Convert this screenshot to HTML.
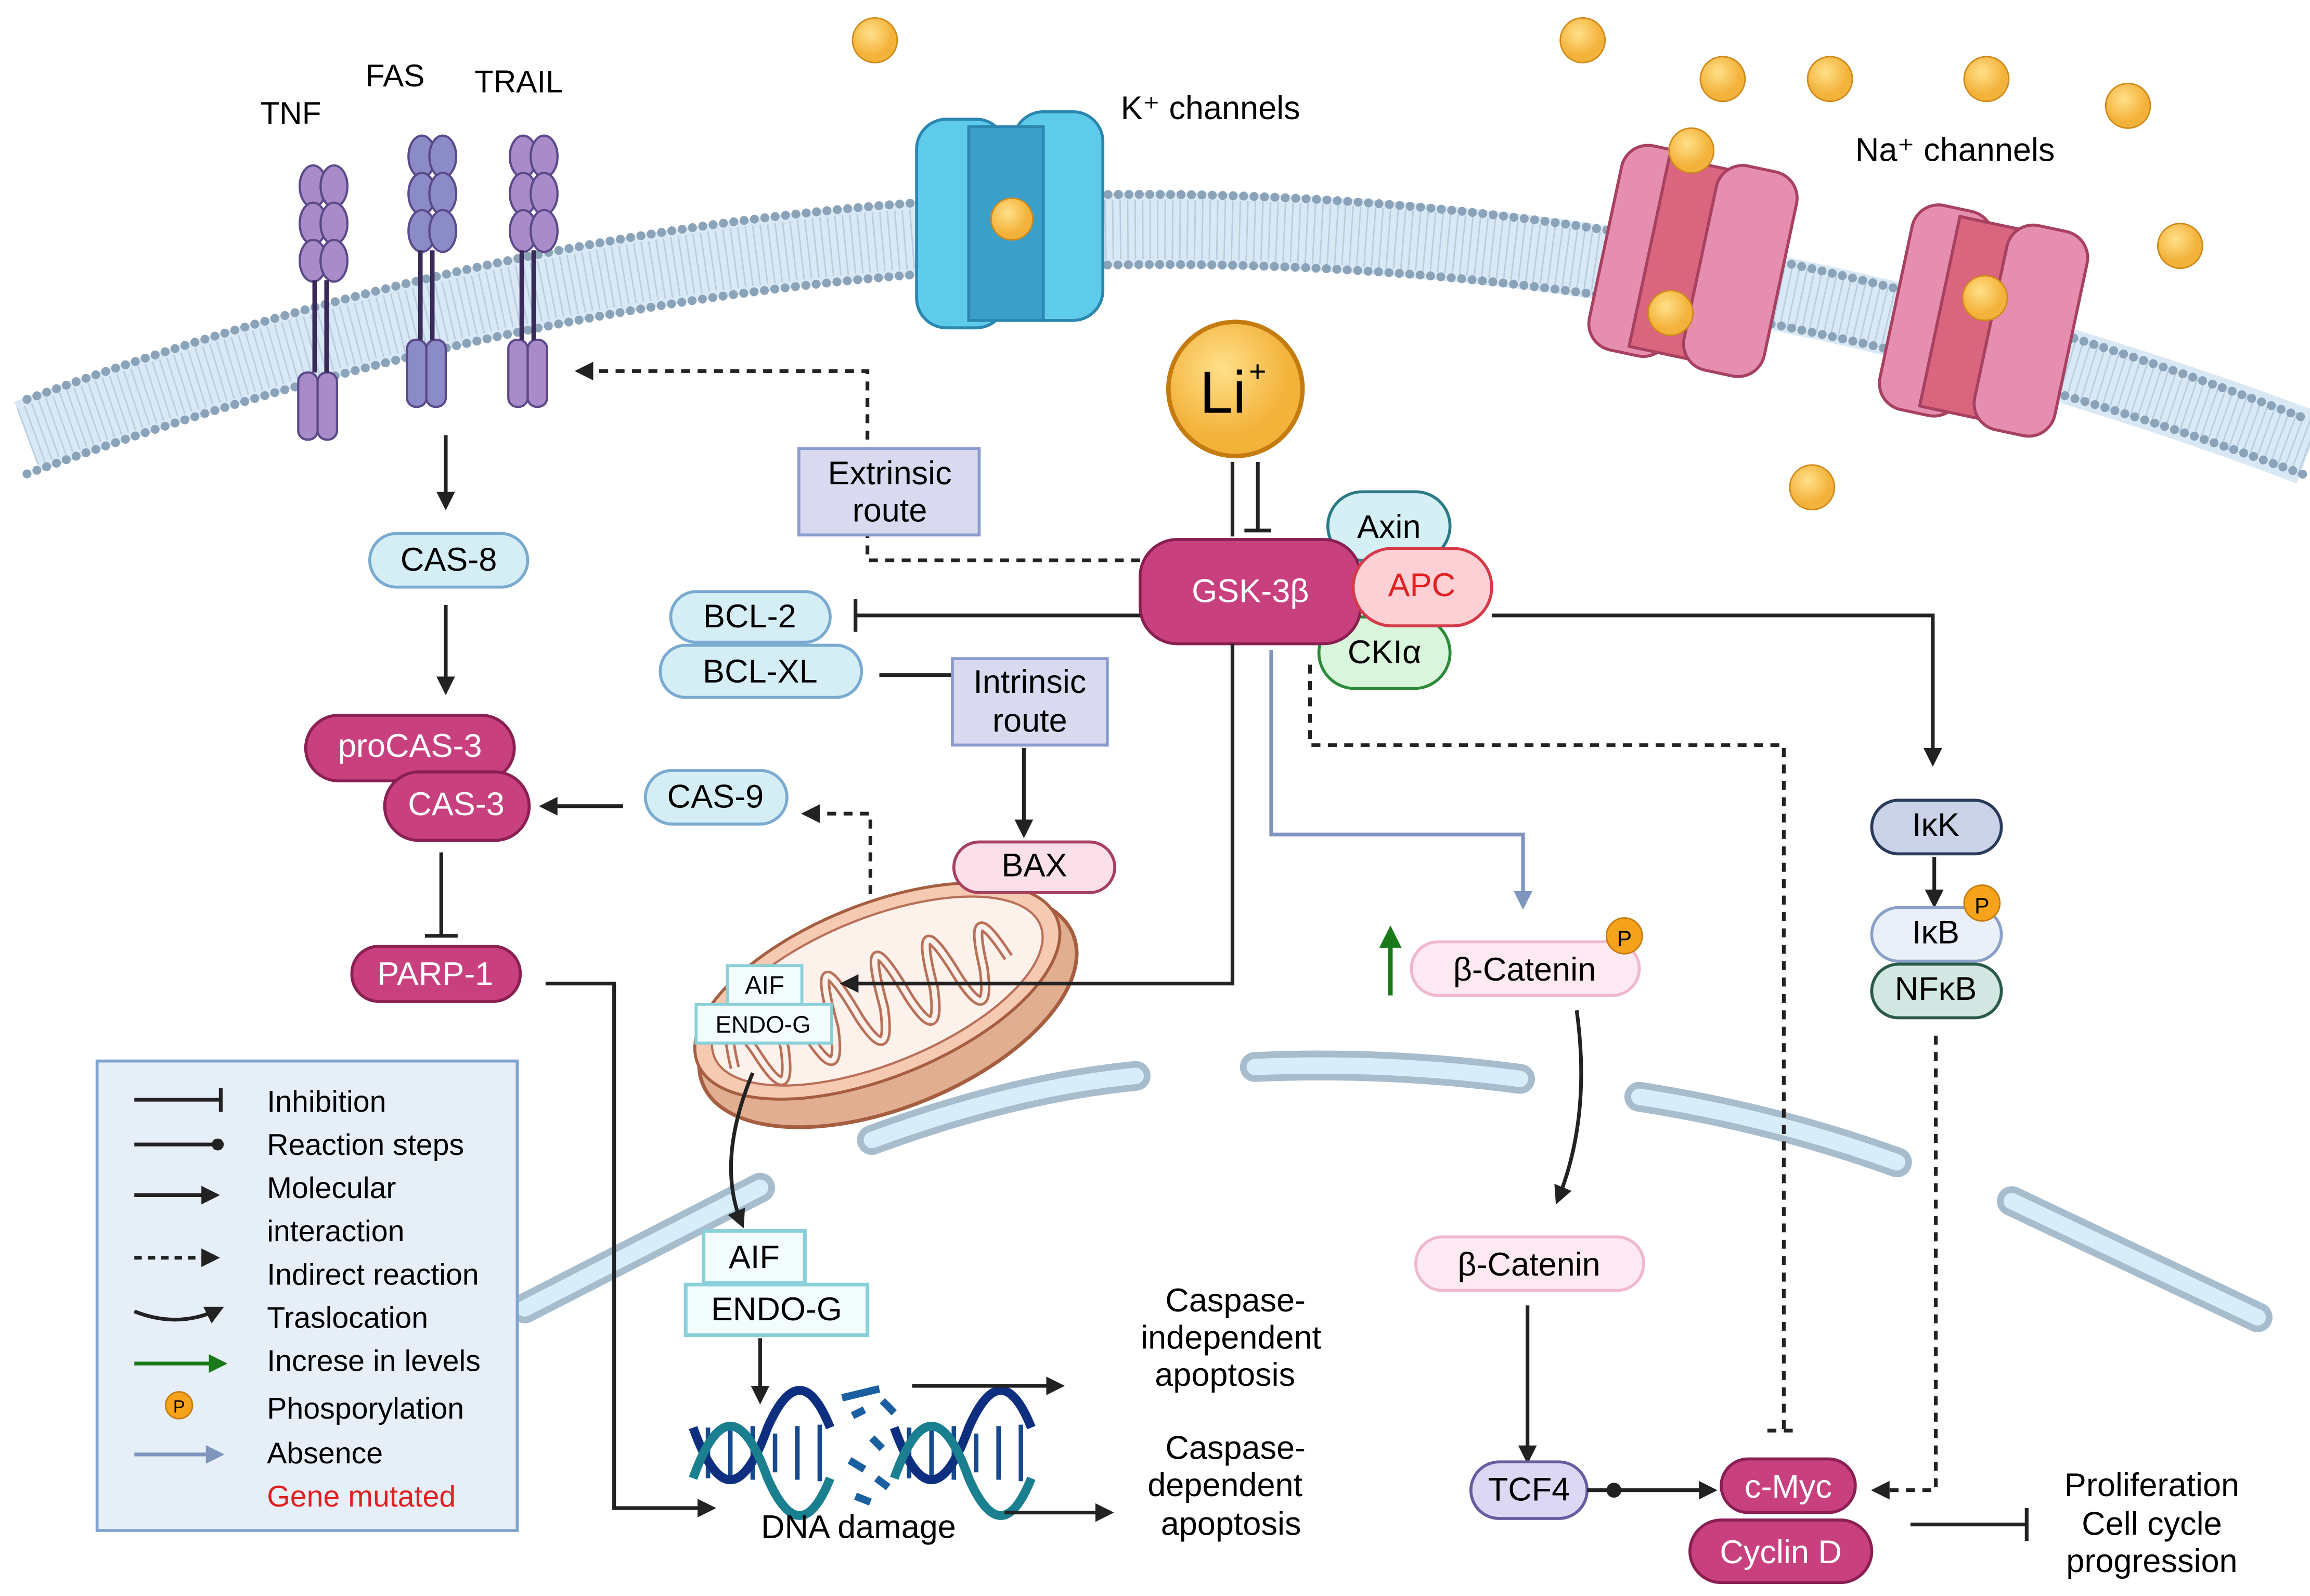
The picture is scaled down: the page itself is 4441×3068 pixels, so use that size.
<!DOCTYPE html>
<html><head><meta charset="utf-8"><style>html,body{margin:0;padding:0;background:#fff}svg{display:block}text{font-family:"Liberation Sans",sans-serif}</style></head><body>
<svg width="4441" height="3068" viewBox="0 0 1550 1071" xmlns="http://www.w3.org/2000/svg">
<defs>
<marker id="a" viewBox="0 0 10 10" refX="8" refY="5" markerWidth="5" markerHeight="5" orient="auto"><path d="M0,0L10,5L0,10z" fill="#222"/></marker>
<marker id="ab" viewBox="0 0 10 10" refX="8" refY="5" markerWidth="5" markerHeight="5" orient="auto"><path d="M0,0L10,5L0,10z" fill="#7f95bd"/></marker>
<marker id="ag" viewBox="0 0 10 10" refX="8" refY="5" markerWidth="5" markerHeight="5" orient="auto"><path d="M0,0L10,5L0,10z" fill="#1a7a1a"/></marker>
<radialGradient id="ion" cx="40%" cy="35%"><stop offset="0" stop-color="#ffe08a"/><stop offset="1" stop-color="#f3b23a"/></radialGradient>
</defs>
<!-- membrane -->
<path d="M18,293 Q785,11 1550,301" fill="none" stroke="#d9e8f5" stroke-width="50"/>
<path d="M18,293 Q785,11 1550,301" fill="none" stroke="#b8cde0" stroke-width="40" stroke-dasharray="1 4"/>
<path d="M18,268 Q785,-14 1550,282" fill="none" stroke="#8aa3b8" stroke-width="6" stroke-linecap="round" stroke-dasharray="0 7"/>
<path d="M18,318 Q785,36 1550,320" fill="none" stroke="#8aa3b8" stroke-width="6" stroke-linecap="round" stroke-dasharray="0 7"/>
<!-- nuclear envelope -->
<g stroke-linecap="round" fill="none">
<g stroke="#a7bccc" stroke-width="20"><path d="M352,878 L510,797"/><path d="M585,765 Q680,730 762,722"/><path d="M842,716 Q930,712 1020,724"/><path d="M1100,736 Q1190,750 1273,780"/><path d="M1350,806 L1515,884"/></g>
<g stroke="#d8edfa" stroke-width="11"><path d="M352,878 L510,797"/><path d="M585,765 Q680,730 762,722"/><path d="M842,716 Q930,712 1020,724"/><path d="M1100,736 Q1190,750 1273,780"/><path d="M1350,806 L1515,884"/></g>
</g>
<!-- receptors -->
<g stroke="#5b4a8a" stroke-width="1.5">
<g fill="#a98bc9"><ellipse cx="210" cy="125" rx="9" ry="14"/><ellipse cx="224" cy="125" rx="9" ry="14"/><ellipse cx="210" cy="150" rx="9" ry="14"/><ellipse cx="224" cy="150" rx="9" ry="14"/><ellipse cx="210" cy="175" rx="9" ry="14"/><ellipse cx="224" cy="175" rx="9" ry="14"/><rect x="200" y="250" width="13" height="45" rx="6"/><rect x="213" y="250" width="13" height="45" rx="6"/></g>
<g fill="#8b8cc7"><ellipse cx="283" cy="105" rx="9" ry="14"/><ellipse cx="297" cy="105" rx="9" ry="14"/><ellipse cx="283" cy="130" rx="9" ry="14"/><ellipse cx="297" cy="130" rx="9" ry="14"/><ellipse cx="283" cy="155" rx="9" ry="14"/><ellipse cx="297" cy="155" rx="9" ry="14"/><rect x="273" y="228" width="13" height="45" rx="6"/><rect x="286" y="228" width="13" height="45" rx="6"/></g>
<g fill="#a98bc9"><ellipse cx="351" cy="105" rx="9" ry="14"/><ellipse cx="365" cy="105" rx="9" ry="14"/><ellipse cx="351" cy="130" rx="9" ry="14"/><ellipse cx="365" cy="130" rx="9" ry="14"/><ellipse cx="351" cy="155" rx="9" ry="14"/><ellipse cx="365" cy="155" rx="9" ry="14"/><rect x="341" y="228" width="13" height="45" rx="6"/><rect x="354" y="228" width="13" height="45" rx="6"/></g>
</g>
<g stroke="#3a2a5a" stroke-width="3"><path d="M211,188V250M219,188V250M282,168V228M290,168V228M350,168V228M358,168V228"/></g>
<text x="195" y="83" font-size="21" text-anchor="middle">TNF</text>
<text x="265" y="58" font-size="21" text-anchor="middle">FAS</text>
<text x="348" y="62" font-size="21" text-anchor="middle">TRAIL</text>
<!-- K channel -->
<rect x="615" y="80" width="60" height="140" rx="20" fill="#5ecbeb" stroke="#2b86b0" stroke-width="2"/>
<rect x="680" y="75" width="60" height="140" rx="20" fill="#5ecbeb" stroke="#2b86b0" stroke-width="2"/>
<rect x="650" y="85" width="50" height="130" fill="#3ba0c9" stroke="#2b86b0" stroke-width="2"/>
<circle cx="679" cy="147" r="14" fill="url(#ion)" stroke="#d08a1a"/>
<text x="752" y="80" font-size="22">K⁺ channels</text>
<!-- Na channels -->
<g transform="rotate(12 1135 180)"><rect x="1075" y="105" width="55" height="140" rx="18" fill="#e58eb0" stroke="#a8405f" stroke-width="2"/><rect x="1105" y="110" width="50" height="130" fill="#d9657f" stroke="#a8405f" stroke-width="2"/><rect x="1140" y="105" width="55" height="140" rx="18" fill="#e58eb0" stroke="#a8405f" stroke-width="2"/></g>
<g transform="rotate(12 1330 220)"><rect x="1270" y="145" width="55" height="140" rx="18" fill="#e58eb0" stroke="#a8405f" stroke-width="2"/><rect x="1300" y="150" width="50" height="130" fill="#d9657f" stroke="#a8405f" stroke-width="2"/><rect x="1335" y="145" width="55" height="140" rx="18" fill="#e58eb0" stroke="#a8405f" stroke-width="2"/></g>
<text x="1245" y="108" font-size="22">Na⁺ channels</text>
<g fill="url(#ion)" stroke="#d08a1a"><circle cx="587" cy="27" r="15"/><circle cx="1062" cy="27" r="15"/><circle cx="1156" cy="53" r="15"/><circle cx="1228" cy="53" r="15"/><circle cx="1333" cy="53" r="15"/><circle cx="1428" cy="71" r="15"/><circle cx="1135" cy="101" r="15"/><circle cx="1463" cy="165" r="15"/><circle cx="1216" cy="327" r="15"/><circle cx="1121" cy="210" r="15"/><circle cx="1332" cy="200" r="15"/></g>
<!-- Li -->
<circle cx="829" cy="261" r="45" fill="url(#ion)" stroke="#c47c10" stroke-width="3"/>
<text x="805" y="277" font-size="40">Li</text><text x="838" y="256" font-size="20">+</text>
<path d="M827,310V360M844,310V355M835,356H853" stroke="#222" stroke-width="2.5" fill="none"/>
<!-- GSK complex -->
<rect x="891" y="330" width="82" height="46" rx="23" fill="#d5f0f4" stroke="#2c7a86" stroke-width="2"/>
<text x="932" y="361" font-size="22" text-anchor="middle">Axin</text>
<rect x="885" y="414" width="88" height="48" rx="24" fill="#d9f5dc" stroke="#2c8a3a" stroke-width="2"/>
<text x="929" y="445" font-size="22" text-anchor="middle">CKIα</text>
<rect x="765" y="362" width="148" height="70" rx="25" fill="#c9407f" stroke="#8a1f52" stroke-width="2"/>
<text x="839" y="404" font-size="22" fill="#fff" text-anchor="middle">GSK-3β</text>
<rect x="908" y="368" width="93" height="52" rx="26" fill="#fdd0d5" stroke="#d43a4a" stroke-width="2"/>
<text x="954" y="400" font-size="22" fill="#e02020" text-anchor="middle">APC</text>
<!-- extrinsic -->
<path d="M765,376H582V249H388" stroke="#222" stroke-width="2.5" fill="none" stroke-dasharray="6 5" marker-end="url(#a)"/>
<rect x="536" y="301" width="121" height="58" fill="#d9d9f0" stroke="#8b9bd0" stroke-width="2"/>
<text x="597" y="325" font-size="22" text-anchor="middle">Extrinsic</text><text x="597" y="350" font-size="22" text-anchor="middle">route</text>
<!-- left cascade -->
<path d="M299,292V340" stroke="#222" stroke-width="2.5" marker-end="url(#a)"/>
<rect x="248" y="358" width="106" height="36" rx="18" fill="#d5eef6" stroke="#7aaad0" stroke-width="2"/>
<text x="301" y="383" font-size="22" text-anchor="middle">CAS-8</text>
<path d="M299,406V464" stroke="#222" stroke-width="2.5" marker-end="url(#a)"/>
<rect x="205" y="480" width="140" height="44" rx="22" fill="#c9407f" stroke="#8a1f52" stroke-width="2"/>
<text x="275" y="508" font-size="22" fill="#fff" text-anchor="middle">proCAS-3</text>
<rect x="258" y="518" width="97" height="46" rx="23" fill="#c9407f" stroke="#8a1f52" stroke-width="2"/>
<text x="306" y="547" font-size="22" fill="#fff" text-anchor="middle">CAS-3</text>
<path d="M418,541H364" stroke="#222" stroke-width="2.5" marker-end="url(#a)"/>
<rect x="433" y="517" width="95" height="36" rx="18" fill="#d5eef6" stroke="#7aaad0" stroke-width="2"/>
<text x="480" y="542" font-size="22" text-anchor="middle">CAS-9</text>
<path d="M584,600V546H540" stroke="#222" stroke-width="2.5" fill="none" stroke-dasharray="6 5" marker-end="url(#a)"/>
<path d="M296,572V628M285,628H307" stroke="#222" stroke-width="2.5" fill="none"/>
<rect x="236" y="635" width="113" height="37" rx="18" fill="#c9407f" stroke="#8a1f52" stroke-width="2"/>
<text x="292" y="661" font-size="22" fill="#fff" text-anchor="middle">PARP-1</text>
<path d="M366,660H412V1012H478" stroke="#222" stroke-width="2.5" fill="none" marker-end="url(#a)"/>
<!-- BCL -->
<path d="M765,413H574M574,402V424" stroke="#222" stroke-width="2.5" fill="none"/>
<rect x="450" y="397" width="107" height="34" rx="17" fill="#d5eef6" stroke="#7aaad0" stroke-width="2"/>
<text x="503" y="421" font-size="22" text-anchor="middle">BCL-2</text>
<rect x="443" y="433" width="135" height="35" rx="17" fill="#d5eef6" stroke="#7aaad0" stroke-width="2"/>
<text x="510" y="458" font-size="22" text-anchor="middle">BCL-XL</text>
<path d="M590,453H640" stroke="#222" stroke-width="2.5"/>
<rect x="639" y="442" width="104" height="58" fill="#d9d9f0" stroke="#8b9bd0" stroke-width="2"/>
<text x="691" y="465" font-size="22" text-anchor="middle">Intrinsic</text><text x="691" y="491" font-size="22" text-anchor="middle">route</text>
<path d="M687,502V560" stroke="#222" stroke-width="2.5" marker-end="url(#a)"/>
<!-- mitochondrion -->
<g transform="rotate(-22 592 668)">
<ellipse cx="592" cy="678" rx="134" ry="66" fill="#e2ae92" stroke="#a65e40" stroke-width="2.5"/>
<ellipse cx="590" cy="664" rx="130" ry="58" fill="#f6c9b2" stroke="#a65e40" stroke-width="2"/>
<ellipse cx="590" cy="664" rx="118" ry="49" fill="#fdf1ec" stroke="#b87058" stroke-width="1.5"/>
<path d="M482,676 q8,-52 18,0 q8,40 18,0 q8,-62 18,0 q8,40 18,0 q8,-68 18,0 q8,40 18,0 q8,-68 18,0 q8,40 18,0 q8,-62 18,0 q8,40 18,0 q8,-52 18,0" fill="none" stroke="#b87058" stroke-width="7" stroke-linejoin="round"/>
<path d="M482,676 q8,-52 18,0 q8,40 18,0 q8,-62 18,0 q8,40 18,0 q8,-68 18,0 q8,40 18,0 q8,-68 18,0 q8,40 18,0 q8,-62 18,0 q8,40 18,0 q8,-52 18,0" fill="none" stroke="#fdf1ec" stroke-width="3.5" stroke-linejoin="round"/>
</g>
<rect x="640" y="565" width="108" height="34" rx="17" fill="#fbe0ea" stroke="#a8405f" stroke-width="2"/>
<text x="694" y="588" font-size="22" text-anchor="middle">BAX</text>
<rect x="488" y="648" width="50" height="26" fill="#f2fcfc" stroke="#8ad0d8" stroke-width="2"/>
<text x="513" y="667" font-size="17" text-anchor="middle">AIF</text>
<rect x="467" y="674" width="91" height="26" fill="#f2fcfc" stroke="#8ad0d8" stroke-width="2"/>
<text x="512" y="693" font-size="16" text-anchor="middle">ENDO-G</text>
<path d="M827,432V660H566" stroke="#222" stroke-width="2.5" fill="none" marker-end="url(#a)"/>
<path d="M505,720 Q480,780 498,822" stroke="#222" stroke-width="2.5" fill="none" marker-end="url(#a)"/>
<rect x="472" y="826" width="68" height="35" fill="#f2fcfc" stroke="#8ad0d8" stroke-width="2.5"/>
<text x="506" y="851" font-size="22" text-anchor="middle">AIF</text>
<rect x="460" y="862" width="122" height="34" fill="#f2fcfc" stroke="#8ad0d8" stroke-width="2.5"/>
<text x="521" y="886" font-size="22" text-anchor="middle">ENDO-G</text>
<path d="M510,898V940" stroke="#222" stroke-width="2.5" marker-end="url(#a)"/>
<!-- DNA -->
<g fill="none">
<path d="M475,958V992M490,955V995M505,957V993M520,962V988M535,957V993M550,956V994M610,958V992M625,955V995M640,957V993M655,962V988M670,957V993M685,956V994" stroke="#17498f" stroke-width="3"/>
<path d="M465,958 q25,70 50,0 q22,-50 42,0" stroke="#0e2f80" stroke-width="6"/>
<path d="M465,992 q25,-70 50,0 q22,50 42,0" stroke="#1a7f8e" stroke-width="6"/>
<path d="M600,958 q25,70 50,0 q22,-50 42,0" stroke="#0e2f80" stroke-width="6"/>
<path d="M600,992 q25,-70 50,0 q22,50 42,0" stroke="#1a7f8e" stroke-width="6"/>
<path d="M565,938 L590,932 M572,950L580,946 M585,965L592,972 M570,980L580,986 M588,992L596,998 M574,1004L584,1008 M592,940L600,948" stroke="#1a5fa0" stroke-width="5"/>
</g>
<text x="576" y="1032" font-size="22" text-anchor="middle">DNA damage</text>
<path d="M612,930H712" stroke="#222" stroke-width="2.5" marker-end="url(#a)"/>
<path d="M674,1015H745" stroke="#222" stroke-width="2.5" marker-end="url(#a)"/>
<text font-size="22" text-anchor="middle"><tspan x="829" y="880">Caspase-</tspan><tspan x="826" y="905">independent</tspan><tspan x="822" y="930">apoptosis</tspan></text>
<text font-size="22" text-anchor="middle"><tspan x="829" y="979">Caspase-</tspan><tspan x="822" y="1004">dependent</tspan><tspan x="826" y="1030">apoptosis</tspan></text>
<!-- beta catenin -->
<path d="M853,436V560H1022V608" stroke="#7f95bd" stroke-width="2.5" fill="none" marker-end="url(#ab)"/>
<path d="M879,446V500H1197V960M1186,960H1208" stroke="#222" stroke-width="2.5" fill="none" stroke-dasharray="6 5"/>
<path d="M933,668V624" stroke="#1a7a1a" stroke-width="3" marker-end="url(#ag)"/>
<rect x="947" y="632" width="153" height="36" rx="18" fill="#fde9f2" stroke="#f0b8d0" stroke-width="2"/>
<text x="1023" y="658" font-size="22" text-anchor="middle">β-Catenin</text>
<circle cx="1090" cy="628" r="12" fill="#f7a21b" stroke="#c47c10"/><text x="1090" y="635" font-size="15" text-anchor="middle">P</text>
<path d="M1058,678 Q1068,750 1045,806" stroke="#222" stroke-width="2.5" fill="none" marker-end="url(#a)"/>
<rect x="950" y="830" width="153" height="36" rx="18" fill="#fde9f2" stroke="#f0b8d0" stroke-width="2"/>
<text x="1026" y="856" font-size="22" text-anchor="middle">β-Catenin</text>
<path d="M1025,876V980" stroke="#222" stroke-width="2.5" marker-end="url(#a)"/>
<rect x="987" y="981" width="78" height="38" rx="19" fill="#dcd8f4" stroke="#6a5aa0" stroke-width="2"/>
<text x="1026" y="1007" font-size="22" text-anchor="middle">TCF4</text>
<path d="M1065,1000H1150" stroke="#222" stroke-width="2.5" marker-end="url(#a)"/>
<circle cx="1083" cy="1000" r="5" fill="#222"/>
<rect x="1155" y="979" width="90" height="36" rx="18" fill="#c9407f" stroke="#8a1f52" stroke-width="2"/>
<text x="1200" y="1005" font-size="22" fill="#fff" text-anchor="middle">c-Myc</text>
<rect x="1134" y="1020" width="122" height="42" rx="21" fill="#c9407f" stroke="#8a1f52" stroke-width="2"/>
<text x="1195" y="1049" font-size="22" fill="#fff" text-anchor="middle">Cyclin D</text>
<path d="M1282,1023H1360M1360,1012V1034" stroke="#222" stroke-width="2.5" fill="none"/>
<text font-size="22" text-anchor="middle"><tspan x="1444" y="1004">Proliferation</tspan><tspan x="1444" y="1030">Cell cycle</tspan><tspan x="1444" y="1055">progression</tspan></text>
<!-- IKK -->
<path d="M1001,413H1297V512" stroke="#222" stroke-width="2.5" fill="none" marker-end="url(#a)"/>
<rect x="1256" y="537" width="87" height="36" rx="18" fill="#c9d2e6" stroke="#2a3a5a" stroke-width="2"/>
<text x="1299" y="561" font-size="22" text-anchor="middle">IκK</text>
<path d="M1298,575V607" stroke="#222" stroke-width="2.5" marker-end="url(#a)"/>
<rect x="1256" y="609" width="87" height="36" rx="18" fill="#eaf0fa" stroke="#8aa0c8" stroke-width="2"/>
<text x="1299" y="633" font-size="22" text-anchor="middle">IκB</text>
<circle cx="1330" cy="606" r="12" fill="#f7a21b" stroke="#c47c10"/><text x="1330" y="613" font-size="15" text-anchor="middle">P</text>
<rect x="1256" y="647" width="87" height="36" rx="18" fill="#d2e6e2" stroke="#2a5a4a" stroke-width="2"/>
<text x="1299" y="671" font-size="22" text-anchor="middle">NFκB</text>
<path d="M1299,695V1000H1258" stroke="#222" stroke-width="2.5" fill="none" stroke-dasharray="6 5" marker-end="url(#a)"/>
<!-- legend -->
<rect x="65" y="712" width="282" height="315" fill="#e6eef8" stroke="#7fa3cf" stroke-width="2"/>
<g stroke-width="2.5" fill="none">
<path d="M90,738H148M148,730V746" stroke="#222"/>
<path d="M90,768H145" stroke="#222"/><circle cx="146" cy="768" r="4" fill="#222"/>
<path d="M90,802H145" stroke="#222" marker-end="url(#a)"/>
<path d="M90,844H145" stroke="#222" stroke-dasharray="5 4" marker-end="url(#a)"/>
<path d="M90,880 Q120,892 148,878" stroke="#222" marker-end="url(#a)"/>
<path d="M90,915H150" stroke="#1a7a1a" marker-end="url(#ag)"/>
<path d="M90,976H148" stroke="#7f95bd" marker-end="url(#ab)"/>
</g>
<circle cx="120" cy="943" r="9" fill="#f7a21b" stroke="#c47c10"/><text x="120" y="948" font-size="12" text-anchor="middle">P</text>
<g font-size="20"><text x="179" y="746">Inhibition</text><text x="179" y="775">Reaction steps</text><text x="179" y="804">Molecular</text><text x="179" y="833">interaction</text><text x="179" y="862">Indirect reaction</text><text x="179" y="891">Traslocation</text><text x="179" y="920">Increse in levels</text><text x="179" y="952">Phosporylation</text><text x="179" y="982">Absence</text><text x="179" y="1011" fill="#e02020">Gene mutated</text></g>
</svg>
</body></html>
